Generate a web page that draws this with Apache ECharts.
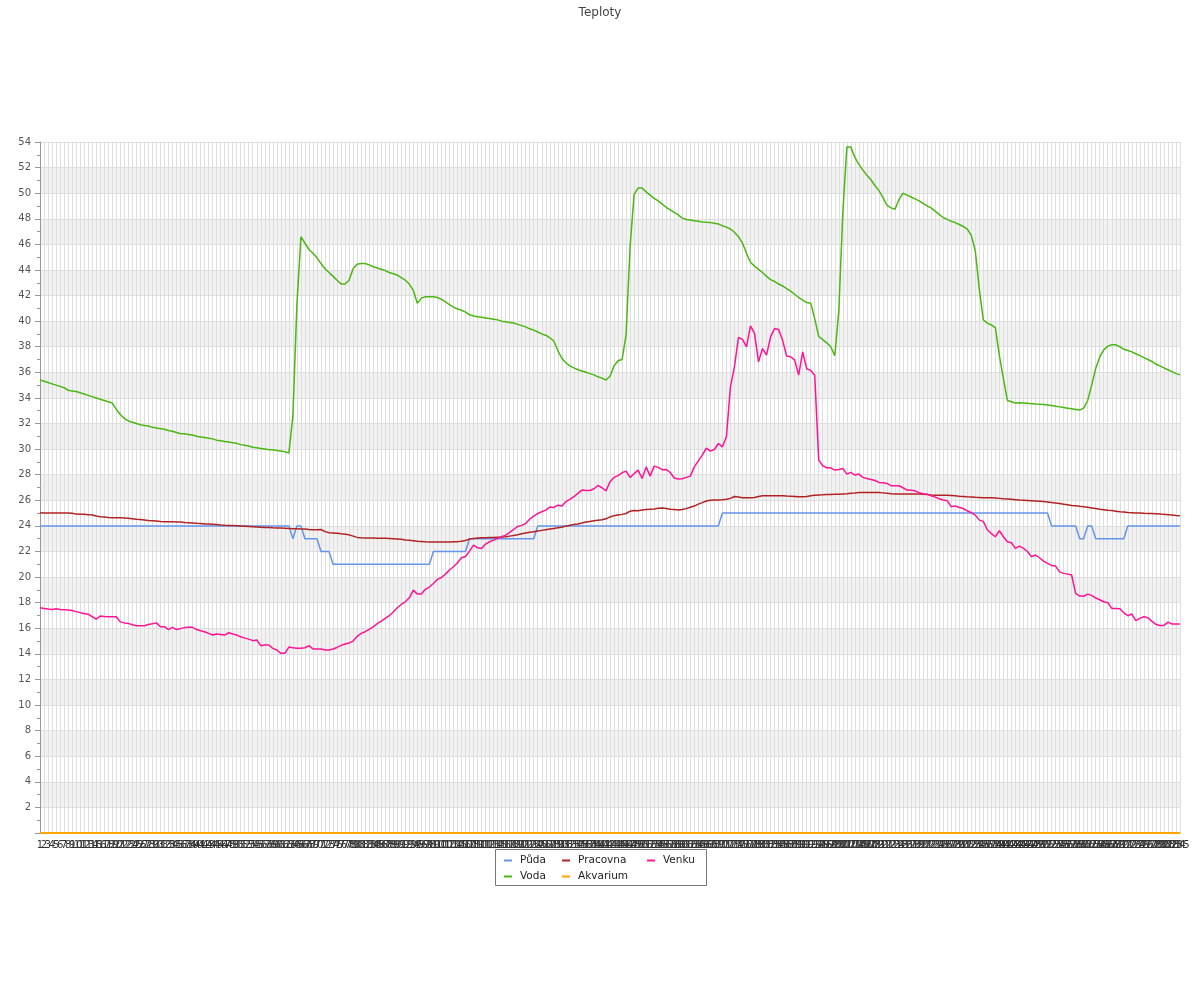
<!DOCTYPE html>
<html>
<head>
<meta charset="utf-8">
<script src="https://cdn.jsdelivr.net/npm/echarts@6/dist/echarts.min.js"></script>
<style>html,body{margin:0;padding:0;background:#fff;}#chart{width:1200px;height:1000px;}</style>
</head>
<body>
<div id="chart"></div>
<script>
const puda = [
24,24,24,24,24,24,24,24,24,24,
24,24,24,24,24,24,24,24,24,24,
24,24,24,24,24,24,24,24,24,24,
24,24,24,24,24,24,24,24,24,24,
24,24,24,24,24,24,24,24,24,24,
24,24,24,24,24,24,24,24,24,24,
24,24,24,23,24,24,23,23,23,23,
22,22,22,21,21,21,21,21,21,21,
21,21,21,21,21,21,21,21,21,21,
21,21,21,21,21,21,21,21,22,22,
22,22,22,22,22,22,22,23,23,23,
23,23,23,23,23,23,23,23,23,23,
23,23,23,23,24,24,24,24,24,24,
24,24,24,24,24,24,24,24,24,24,
24,24,24,24,24,24,24,24,24,24,
24,24,24,24,24,24,24,24,24,24,
24,24,24,24,24,24,24,24,24,24,
25,25,25,25,25,25,25,25,25,25,
25,25,25,25,25,25,25,25,25,25,
25,25,25,25,25,25,25,25,25,25,
25,25,25,25,25,25,25,25,25,25,
25,25,25,25,25,25,25,25,25,25,
25,25,25,25,25,25,25,25,25,25,
25,25,25,25,25,25,25,25,25,25,
25,25,25,25,25,25,25,25,25,25,
25,25,24,24,24,24,24,24,24,23,
23,24,24,23,23,23,23,23,23,23,
23,24,24,24,24,24,24,24,24,24,
24,24,24,24,24];

const voda = [
35.4,35.3,35.2,35.1,35.0,34.9,34.8,34.6,34.55,34.5,
34.4,34.3,34.2,34.1,34.0,33.9,33.8,33.7,33.6,33.1,
32.7,32.4,32.2,32.1,32.0,31.9,31.85,31.8,31.7,31.65,
31.6,31.55,31.45,31.4,31.3,31.2,31.2,31.15,31.1,31.0,
30.95,30.9,30.85,30.8,30.7,30.65,30.6,30.55,30.5,30.45,
30.35,30.3,30.25,30.15,30.1,30.05,30.0,29.95,29.95,29.9,
29.85,29.8,29.7,32.6,41.3,46.6,46.1,45.6,45.3,44.95,
44.5,44.1,43.8,43.5,43.2,42.9,42.9,43.2,44.1,44.45,
44.5,44.5,44.4,44.25,44.15,44.05,43.95,43.8,43.7,43.6,
43.4,43.2,42.9,42.4,41.4,41.8,41.9,41.9,41.9,41.85,
41.7,41.5,41.3,41.1,40.95,40.85,40.7,40.5,40.4,40.35,
40.3,40.25,40.2,40.15,40.1,40.0,39.95,39.9,39.85,39.75,
39.65,39.55,39.4,39.3,39.15,39.0,38.9,38.7,38.45,37.7,
37.1,36.75,36.5,36.35,36.2,36.1,36.0,35.9,35.8,35.65,
35.55,35.4,35.7,36.5,36.9,37.0,38.9,45.8,49.9,50.4,
50.4,50.1,49.85,49.6,49.4,49.15,48.9,48.7,48.5,48.3,
48.05,47.95,47.9,47.85,47.8,47.75,47.72,47.7,47.65,47.6,
47.45,47.35,47.2,46.95,46.6,46.1,45.3,44.6,44.3,44.05,
43.8,43.5,43.25,43.1,42.9,42.75,42.55,42.35,42.1,41.85,
41.65,41.45,41.4,40.2,38.8,38.55,38.3,38.0,37.3,40.8,
48.5,53.6,53.6,52.8,52.25,51.8,51.4,51.05,50.6,50.2,
49.65,49.05,48.85,48.75,49.5,50.0,49.85,49.7,49.55,49.4,
49.2,49.0,48.85,48.6,48.35,48.1,47.95,47.8,47.7,47.55,
47.4,47.2,46.7,45.5,42.5,40.1,39.85,39.7,39.5,37.3,
35.5,33.8,33.7,33.6,33.62,33.6,33.58,33.55,33.52,33.5,
33.48,33.45,33.4,33.35,33.3,33.25,33.2,33.15,33.1,33.05,
33.2,33.8,35.0,36.3,37.2,37.75,38.05,38.15,38.15,38.0,
37.8,37.7,37.6,37.45,37.3,37.15,37.0,36.85,36.65,36.5,
36.35,36.2,36.05,35.9,35.8];

const pracovna = [
25.02,25.0,25.0,25.0,25.0,25.0,25.0,25.0,24.98,24.92,
24.9,24.9,24.88,24.85,24.78,24.72,24.7,24.66,24.64,24.64,
24.63,24.62,24.6,24.56,24.52,24.5,24.46,24.42,24.4,24.38,
24.35,24.33,24.32,24.32,24.31,24.3,24.27,24.25,24.23,24.2,
24.18,24.15,24.14,24.12,24.1,24.07,24.05,24.04,24.03,24.02,
24.0,23.98,23.96,23.94,23.92,23.9,23.88,23.87,23.85,23.84,
23.83,23.82,23.8,23.78,23.77,23.76,23.75,23.72,23.7,23.7,
23.72,23.55,23.47,23.45,23.42,23.38,23.35,23.3,23.2,23.1,
23.07,23.06,23.05,23.05,23.04,23.04,23.03,23.02,23.0,22.98,
22.95,22.9,22.87,22.84,22.8,22.78,22.76,22.75,22.75,22.75,
22.75,22.75,22.75,22.76,22.77,22.8,22.85,22.97,23.02,23.05,
23.07,23.08,23.1,23.1,23.12,23.13,23.15,23.2,23.25,23.3,
23.38,23.45,23.5,23.55,23.6,23.65,23.7,23.75,23.8,23.85,
23.9,23.98,24.05,24.1,24.15,24.22,24.3,24.35,24.4,24.45,
24.48,24.55,24.7,24.8,24.85,24.9,24.97,25.15,25.2,25.18,
25.25,25.28,25.3,25.32,25.38,25.4,25.35,25.3,25.28,25.25,
25.28,25.35,25.45,25.55,25.7,25.82,25.95,26.0,26.02,26.03,
26.05,26.08,26.15,26.3,26.25,26.2,26.2,26.2,26.22,26.3,
26.35,26.35,26.35,26.35,26.35,26.35,26.33,26.32,26.3,26.28,
26.28,26.3,26.35,26.4,26.42,26.43,26.45,26.46,26.47,26.48,
26.5,26.52,26.55,26.57,26.6,26.6,26.6,26.6,26.6,26.6,
26.58,26.55,26.52,26.5,26.5,26.5,26.5,26.5,26.5,26.5,
26.48,26.45,26.42,26.4,26.4,26.4,26.4,26.38,26.35,26.32,
26.3,26.27,26.25,26.23,26.22,26.2,26.2,26.2,26.18,26.15,
26.12,26.1,26.08,26.05,26.02,26.0,25.98,25.96,25.94,25.92,
25.9,25.87,25.83,25.79,25.75,25.7,25.65,25.6,25.57,25.53,
25.5,25.45,25.4,25.35,25.3,25.27,25.23,25.2,25.15,25.1,
25.08,25.05,25.03,25.01,25.0,24.98,24.97,24.96,24.95,24.93,
24.9,24.88,24.85,24.82,24.8];

const akvarium = [
0,0,0,0,0,0,0,0,0,0, 0,0,0,0,0,0,0,0,0,0, 0,0,0,0,0,0,0,0,0,0,
0,0,0,0,0,0,0,0,0,0, 0,0,0,0,0,0,0,0,0,0, 0,0,0,0,0,0,0,0,0,0,
0,0,0,0,0,0,0,0,0,0, 0,0,0,0,0,0,0,0,0,0, 0,0,0,0,0,0,0,0,0,0,
0,0,0,0,0,0,0,0,0,0, 0,0,0,0,0,0,0,0,0,0, 0,0,0,0,0,0,0,0,0,0,
0,0,0,0,0,0,0,0,0,0, 0,0,0,0,0,0,0,0,0,0, 0,0,0,0,0,0,0,0,0,0,
0,0,0,0,0,0,0,0,0,0, 0,0,0,0,0,0,0,0,0,0, 0,0,0,0,0,0,0,0,0,0,
0,0,0,0,0,0,0,0,0,0, 0,0,0,0,0,0,0,0,0,0, 0,0,0,0,0,0,0,0,0,0,
0,0,0,0,0,0,0,0,0,0, 0,0,0,0,0,0,0,0,0,0, 0,0,0,0,0,0,0,0,0,0,
0,0,0,0,0,0,0,0,0,0, 0,0,0,0,0,0,0,0,0,0, 0,0,0,0,0,0,0,0,0,0,
0,0,0,0,0,0,0,0,0,0, 0,0,0,0,0];

const venku = [
17.6,17.55,17.5,17.47,17.52,17.47,17.45,17.42,17.38,17.3,
17.22,17.15,17.1,16.9,16.72,16.95,16.92,16.9,16.9,16.9,
16.5,16.42,16.38,16.28,16.2,16.2,16.2,16.3,16.35,16.42,
16.12,16.12,15.9,16.07,15.9,15.97,16.05,16.07,16.07,15.9,
15.8,15.73,15.6,15.47,15.55,15.52,15.47,15.65,15.55,15.47,
15.33,15.23,15.15,15.03,15.08,14.64,14.69,14.69,14.43,14.3,
14.04,14.04,14.53,14.48,14.43,14.43,14.48,14.64,14.38,14.38,
14.38,14.3,14.3,14.38,14.5,14.66,14.77,14.85,15.0,15.37,
15.6,15.73,15.91,16.1,16.36,16.56,16.77,16.98,17.27,17.6,
17.86,18.07,18.38,18.98,18.67,18.67,19.04,19.22,19.5,19.82,
19.97,20.23,20.55,20.81,21.12,21.51,21.61,22.03,22.5,22.29,
22.24,22.58,22.76,22.89,23.02,23.15,23.28,23.49,23.72,23.96,
24.04,24.19,24.53,24.77,24.97,25.1,25.23,25.47,25.44,25.62,
25.55,25.89,26.07,26.28,26.54,26.8,26.77,26.77,26.9,27.16,
26.98,26.74,27.45,27.79,27.93,28.15,28.28,27.79,28.08,28.36,
27.7,28.61,27.89,28.67,28.57,28.39,28.41,28.17,27.74,27.66,
27.68,27.79,27.89,28.61,29.08,29.53,30.08,29.84,29.97,30.44,
30.18,30.96,34.87,36.43,38.73,38.57,37.99,39.63,39.04,36.82,
37.86,37.34,38.77,39.42,39.34,38.5,37.27,37.22,36.96,35.78,
37.6,36.28,36.15,35.78,29.14,28.7,28.54,28.54,28.36,28.41,
28.49,28.05,28.18,27.97,28.05,27.79,27.7,27.63,27.55,27.4,
27.37,27.32,27.14,27.14,27.14,26.98,26.8,26.78,26.74,26.59,
26.51,26.48,26.35,26.25,26.12,26.02,25.97,25.5,25.55,25.44,
25.36,25.18,25.03,24.84,24.45,24.35,23.7,23.4,23.15,23.62,
23.15,22.76,22.68,22.24,22.42,22.24,22.0,21.59,21.72,21.51,
21.25,21.07,20.91,20.86,20.41,20.29,20.23,20.16,18.72,18.52,
18.5,18.67,18.57,18.36,18.23,18.07,18.0,17.55,17.55,17.53,
17.21,16.98,17.11,16.59,16.77,16.9,16.82,16.54,16.3,16.22,
16.22,16.48,16.33,16.33,16.33];

const categories = Array.from({length: voda.length}, (_, i) => String(i + 1));

const seriesNames = ['Půda', 'Voda', 'Pracovna', 'Akvarium', 'Venku'];
const seriesColors = ['#6495ed', '#4cb613', '#b22222', '#ffa500', '#ff1493'];
const seriesData = [puda, voda, pracovna, akvarium, venku];

const legendPos = [
  {name: 'Půda', left: 504, top: 855},
  {name: 'Voda', left: 504, top: 871},
  {name: 'Pracovna', left: 562, top: 855},
  {name: 'Akvarium', left: 562, top: 871},
  {name: 'Venku', left: 647, top: 855}
];

const chart = echarts.init(document.getElementById('chart'), null, {renderer: 'canvas'});
const FONT = 'DejaVu Sans';

chart.setOption({
  animation: false,
  backgroundColor: '#ffffff',
  color: seriesColors,
  title: {
    text: 'Teploty', left: 'center', top: 2,
    textStyle: {fontFamily: FONT, fontSize: 12, fontWeight: 'normal', color: '#444'}
  },
  grid: {left: 40, right: 20, top: 142, bottom: 167, containLabel: false},
  legend: legendPos.map(p => ({
    data: [p.name], left: p.left, top: p.top, padding: 0,
    icon: 'rect', itemWidth: 8, itemHeight: 2,
    textStyle: {fontFamily: FONT, fontSize: 10.5, color: '#222', padding: [0, 0, 0, 3]}
  })),
  graphic: [{
    type: 'rect', z: 100, silent: true,
    shape: {x: 495.5, y: 849.5, width: 211, height: 36},
    style: {fill: 'none', stroke: '#777', lineWidth: 1}
  }],
  xAxis: {
    type: 'category', data: categories, boundaryGap: false,
    axisLine: {show: true, lineStyle: {color: '#999'}},
    axisTick: {show: false},
    axisLabel: {interval: 0, margin: 7, fontFamily: FONT, fontSize: 10, color: '#333', hideOverlap: false},
    splitLine: {show: true, interval: 0, lineStyle: {color: '#dedede', width: 1}}
  },
  yAxis: {
    type: 'value', min: 0, max: 54, interval: 2,
    axisLine: {show: true, lineStyle: {color: '#999'}},
    axisTick: {show: true, length: 5, lineStyle: {color: '#999'}},
    minorTick: {show: true, splitNumber: 2, length: 3, lineStyle: {color: '#999'}},
    axisLabel: {margin: 9, fontFamily: FONT, fontSize: 10, color: '#555',
      formatter: v => (v === 0 ? '' : String(v))},
    splitLine: {show: true, lineStyle: {color: '#dedede', width: 1}},
    splitArea: {show: true, areaStyle: {color: ['rgba(255,255,255,0)', '#f2f2f2']}}
  },
  series: seriesNames.map((name, k) => ({
    name, type: 'line', data: seriesData[k],
    showSymbol: false, symbol: 'none', smooth: false,
    lineStyle: {width: k === 3 ? 2 : 1.5, color: seriesColors[k]},
    itemStyle: {color: seriesColors[k]}
  }))
});
</script>
</body>
</html>
